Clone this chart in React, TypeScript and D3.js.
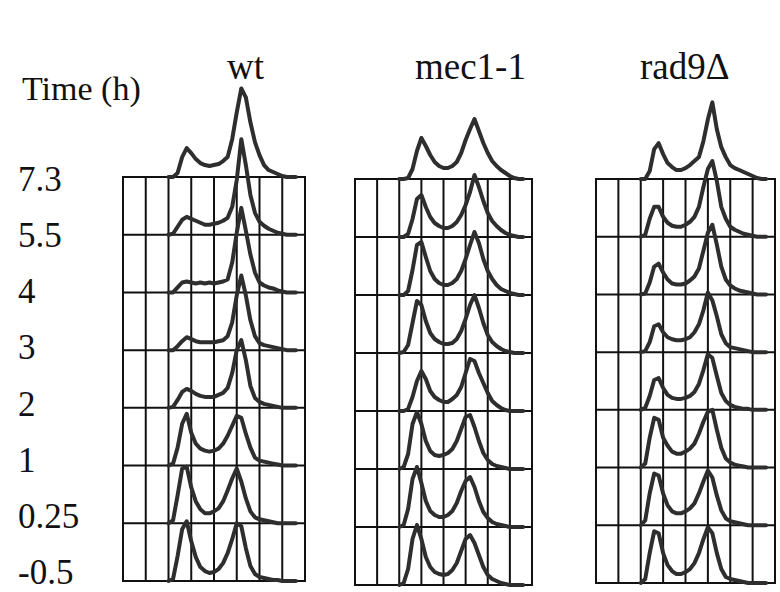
import React from "react";
import * as d3 from "d3";

// ---- data ----
const STRAINS = ["wt", "mec1-1", "rad9\u0394"];
const TIMES = ["7.3", "5.5", "4", "3", "2", "1", "0.25", "-0.5"];
// bin centres in grid-column units (8 columns per panel)
const BINS = [2.0, 2.2, 2.4, 2.6, 2.8, 3.0, 3.2, 3.4, 3.6, 3.8, 4.0, 4.2, 4.4, 4.6, 4.8, 5.0, 5.2, 5.4, 5.6, 5.8, 6.0, 6.2, 6.4, 6.6, 6.8, 7.0, 7.2, 7.4, 7.6];

const WT = [
  [0, 0, 4, 20, 29, 24, 18, 14, 12, 11, 12, 13, 16, 20, 38, 65, 89, 80, 55, 35, 22, 12, 7, 5, 3, 1, 0, 0, 0],
  [0, 1, 8, 15, 18, 16, 14, 12, 10, 10, 11, 12, 14, 17, 28, 55, 96, 70, 40, 22, 13, 9, 6, 4, 2, 1, 0, 0, 0],
  [0, 0, 5, 10, 11, 10, 9, 10, 9, 10, 9, 10, 11, 13, 30, 60, 85, 62, 38, 20, 10, 7, 5, 4, 2, 1, 0, 0, 0],
  [0, 0, 4, 9, 13, 11, 9, 8, 8, 8, 8, 9, 10, 14, 28, 55, 75, 55, 30, 14, 7, 5, 4, 3, 2, 1, 0, 0, 0],
  [0, 1, 8, 16, 19, 17, 14, 12, 11, 11, 11, 13, 15, 20, 35, 58, 68, 48, 22, 10, 6, 4, 3, 2, 1, 0, 0, 0, 0],
  [0, 2, 18, 42, 52, 33, 22, 17, 15, 14, 15, 17, 22, 30, 40, 50, 48, 32, 18, 8, 5, 4, 3, 2, 1, 0, 0, 0, 0],
  [0, 3, 28, 55, 57, 36, 22, 14, 10, 10, 12, 15, 22, 33, 45, 55, 42, 25, 12, 6, 4, 3, 2, 1, 0, 0, 0, 0, 0],
  [0, 2, 25, 52, 60, 40, 24, 14, 10, 8, 9, 12, 18, 28, 42, 58, 55, 33, 15, 7, 4, 3, 2, 1, 1, 0, 0, 0, 0],
];

const MEC1 = [
  [0, 0, 1, 10, 28, 41, 33, 24, 17, 13, 11, 11, 13, 17, 26, 39, 50, 60, 48, 36, 26, 18, 13, 9, 6, 3, 1, 0, 0],
  [0, 0, 3, 18, 38, 42, 30, 20, 14, 11, 9, 9, 11, 15, 22, 32, 45, 62, 50, 36, 24, 16, 11, 7, 4, 2, 1, 0, 0],
  [0, 0, 4, 25, 50, 53, 38, 24, 16, 12, 10, 10, 12, 16, 24, 36, 50, 63, 52, 36, 24, 16, 10, 6, 4, 2, 1, 0, 0],
  [0, 1, 8, 30, 52, 48, 32, 20, 14, 11, 9, 9, 10, 14, 22, 34, 48, 58, 45, 30, 18, 11, 7, 4, 2, 1, 0, 0, 0],
  [0, 0, 2, 14, 30, 40, 32, 20, 14, 11, 9, 9, 12, 16, 24, 38, 52, 50, 38, 28, 18, 10, 6, 3, 1, 0, 0, 0, 0],
  [0, 2, 15, 45, 57, 45, 28, 18, 14, 13, 14, 16, 20, 28, 40, 52, 54, 42, 28, 16, 9, 5, 3, 2, 1, 0, 0, 0, 0],
  [0, 2, 18, 48, 60, 44, 26, 16, 12, 10, 10, 12, 16, 24, 36, 46, 50, 40, 26, 15, 9, 5, 3, 2, 1, 0, 0, 0, 0],
  [0, 2, 16, 46, 60, 46, 28, 18, 13, 11, 10, 11, 15, 22, 34, 46, 50, 42, 30, 18, 10, 6, 4, 2, 1, 0, 0, 0, 0],
];

const RAD9 = [
  [0, 0, 8, 30, 36, 25, 16, 12, 9, 9, 11, 14, 18, 22, 38, 60, 77, 50, 32, 22, 14, 11, 9, 7, 5, 3, 1, 0, 0],
  [0, 2, 18, 30, 30, 20, 14, 11, 10, 10, 12, 15, 20, 30, 50, 68, 76, 56, 30, 18, 10, 7, 5, 3, 2, 1, 0, 0, 0],
  [0, 1, 12, 28, 31, 22, 15, 11, 10, 10, 11, 14, 18, 26, 44, 62, 70, 50, 28, 15, 9, 6, 4, 3, 2, 1, 0, 0, 0],
  [0, 1, 10, 26, 28, 20, 15, 13, 12, 12, 13, 15, 20, 28, 42, 60, 52, 36, 18, 9, 5, 4, 3, 2, 1, 0, 0, 0, 0],
  [0, 2, 14, 30, 32, 22, 15, 12, 11, 11, 12, 14, 18, 26, 40, 56, 52, 34, 17, 9, 5, 3, 2, 1, 1, 0, 0, 0, 0],
  [0, 4, 30, 50, 48, 30, 22, 16, 14, 14, 16, 19, 24, 34, 46, 56, 58, 38, 20, 9, 5, 3, 2, 1, 0, 0, 0, 0, 0],
  [0, 5, 32, 52, 50, 32, 20, 14, 12, 12, 14, 17, 22, 32, 44, 55, 48, 30, 15, 7, 4, 3, 2, 1, 0, 0, 0, 0, 0],
  [0, 4, 30, 52, 50, 30, 18, 12, 9, 9, 11, 14, 20, 30, 44, 56, 50, 30, 14, 6, 4, 3, 2, 1, 0, 0, 0, 0, 0],
];

const SERIES = [WT, MEC1, RAD9];

// ---- layout ----
const W = 780;
const H = 592;
const PANELS = [
  { x0: 123, x1: 305, y0: 177, y1: 581, titleX: 227 },
  { x0: 355, x1: 532, y0: 179, y1: 585, titleX: 415 },
  { x0: 596, x1: 775, y0: 179, y1: 583, titleX: 640 },
];
const NCOL = 8;
const NROW = 7;
const FONT = "Liberation Serif, DejaVu Serif, serif";

function Panel({ p, data }) {
  const x = d3.scaleLinear().domain([0, NCOL]).range([p.x0, p.x1]);
  const rowH = (p.y1 - p.y0) / NROW;
  const yRow = d3.scaleLinear().domain([0, NROW]).range([p.y0, p.y1]);
  const hScale = d3.scaleLinear().domain([0, 58]).range([0, rowH]);
  const cols = d3.range(NCOL + 1);
  const rows = d3.range(NROW + 1);
  return (
    <g>
      {cols.map((c) => (
        <line key={"c" + c} x1={x(c)} x2={x(c)} y1={p.y0} y2={p.y1} stroke="#111" strokeWidth={2} />
      ))}
      {rows.map((r) => (
        <line key={"r" + r} x1={p.x0 - 1} x2={p.x1 + 1} y1={yRow(r)} y2={yRow(r)} stroke="#111" strokeWidth={2} />
      ))}
      {data.map((vals, i) => {
        const base = yRow(i);
        const pts = BINS.map((b, k) => [x(b), base - hScale(vals[k])]);
        const line = d3.line().curve(d3.curveLinear);
        return (
          <path
            key={"h" + i}
            d={line(pts)}
            fill="none"
            stroke="#2e2e2e"
            strokeWidth={4}
            strokeLinejoin="round"
            strokeLinecap="round"
          />
        );
      })}
    </g>
  );
}

export default function App() {
  const labelRow = d3.scaleLinear().domain([0, NROW]).range([191, 584]);
  return (
    <svg
      width={W}
      height={H}
      viewBox={`0 0 ${W} ${H}`}
      style={{ position: "absolute", left: 0, top: 0, background: "#fff" }}
    >
      <rect x={0} y={0} width={W} height={H} fill="#fff" />
      <text x={22} y={100} fontFamily={FONT} fontSize={34} fill="#111">
        Time (h)
      </text>
      {STRAINS.map((s, i) => (
        <text key={s} x={PANELS[i].titleX} y={79} fontFamily={FONT} fontSize={37} fill="#111">
          {s}
        </text>
      ))}
      {TIMES.map((t, i) => (
        <text
          key={t}
          x={18}
          y={labelRow(i)}
          fontFamily={FONT}
          fontSize={35}
          fill="#111"
        >
          {t}
        </text>
      ))}
      {PANELS.map((p, i) => (
        <Panel key={i} p={p} data={SERIES[i]} />
      ))}
    </svg>
  );
}
